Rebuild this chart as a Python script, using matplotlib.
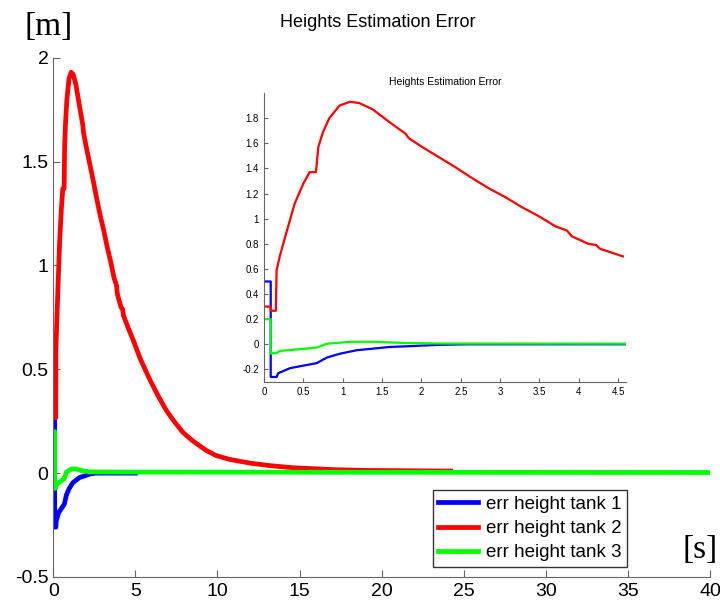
import matplotlib
matplotlib.use("Agg")
import numpy as np
import matplotlib.pyplot as plt

plt.rcParams['font.family'] = ['Liberation Sans', 'DejaVu Sans']

# --- data (time [s], error [m]) ---
# early transient (also the inset)
t_red_early = [0, 0.085, 0.085, 0.15, 0.16, 0.20, 0.244, 0.33, 0.39, 0.50, 0.58, 0.66,
               0.69, 0.75, 0.83, 0.96, 1.09, 1.21, 1.38, 1.59, 1.80, 1.84, 2.01, 2.22,
               2.43, 2.65, 2.86, 3.07, 3.28, 3.49, 3.70, 3.85, 3.91, 4.12, 4.22, 4.27, 4.56]
e_red_early = [0.30, 0.30, 0.267, 0.267, 0.59, 0.70, 0.80, 0.99, 1.12, 1.28, 1.37, 1.37,
               1.57, 1.69, 1.80, 1.90, 1.93, 1.92, 1.87, 1.77, 1.675, 1.64, 1.57, 1.49,
               1.41, 1.32, 1.24, 1.17, 1.09, 1.02, 0.94, 0.905, 0.86, 0.80, 0.79, 0.76, 0.70]
# tail of tank 2 (main plot only)
t_red_tail = [4.87, 5.3, 5.88, 6.4, 6.9, 7.4, 7.91, 8.5, 9.3, 9.9, 10.75, 12.0, 13.2,
              14.6, 17.0, 19.1, 24.2]
e_red_tail = [0.64, 0.55, 0.45, 0.37, 0.30, 0.245, 0.195, 0.155, 0.11, 0.085, 0.066,
              0.048, 0.036, 0.026, 0.017, 0.013, 0.010]

t_blue = [0, 0.085, 0.085, 0.16, 0.18, 0.33, 0.54, 0.67, 0.80, 0.97, 1.18, 1.39, 1.60,
          1.81, 2.24, 2.6, 4.6]
e_blue = [0.5, 0.5, -0.26, -0.26, -0.23, -0.19, -0.165, -0.15, -0.105, -0.074, -0.047,
          -0.034, -0.021, -0.016, -0.004, 0.0, 0.0]
t_blue_tail = [4.6, 5.0]
e_blue_tail = [0.0, 0.0]

t_green = [0, 0.085, 0.085, 0.16, 0.20, 0.54, 0.67, 0.80, 0.97, 1.10, 1.39, 1.81, 2.24, 4.6]
e_green = [0.2, 0.2, -0.074, -0.07, -0.053, -0.034, -0.026, 0.005, 0.013, 0.02, 0.02,
           0.01, 0.006, 0.005]
t_green_tail = [4.6, 40]
e_green_tail = [0.005, 0.003]

labels = ['err height tank 1', 'err height tank 2', 'err height tank 3']
colors = ['#0000ff', '#ff0000', '#00ff00']

main_xticks = list(range(0, 41, 5))
main_yticks = [-0.5, 0, 0.5, 1, 1.5, 2]
main_yticklabels = ['-0.5', '0', '0.5', '1', '1.5', '2']
ins_xticks = [0, 0.5, 1, 1.5, 2, 2.5, 3, 3.5, 4, 4.5]
ins_xticklabels = ['0', '0.5', '1', '1.5', '2', '2.5', '3', '3.5', '4', '4.5']
ins_yticks = [-0.2, 0, 0.2, 0.4, 0.6, 0.8, 1, 1.2, 1.4, 1.6, 1.8]
ins_yticklabels = ['-0.2', '0', '0.2', '0.4', '0.6', '0.8', '1', '1.2', '1.4', '1.6', '1.8']

spine_col = '0.4'


def style(ax, size, ticklen):
    for s in ['top', 'right']:
        ax.spines[s].set_visible(False)
    for s in ['left', 'bottom']:
        ax.spines[s].set_color(spine_col)
    ax.tick_params(direction='in', length=ticklen, color=spine_col,
                   labelsize=size, labelcolor='black')


fig = plt.figure(figsize=(7.2, 6.05), dpi=100)

# main axes
ax = fig.add_axes([0.0740, 0.0463, 0.9122, 0.8583])
red_t = t_red_early + t_red_tail
red_e = e_red_early + e_red_tail
lw = 3.4
ax.plot(t_blue + t_blue_tail, e_blue + e_blue_tail, color=colors[0], lw=lw, label=labels[0])
ax.plot(red_t, red_e, color=colors[1], lw=lw, label=labels[1])
ax.plot(t_green + t_green_tail, e_green + e_green_tail, color=colors[2], lw=lw, label=labels[2])
ax.set_xlim(0, 40)
ax.set_ylim(-0.5, 2)
ax.set_xticks(main_xticks)
ax.set_xticklabels([str(v) for v in main_xticks])
ax.set_yticks(main_yticks)
ax.set_yticklabels(main_yticklabels)
style(ax, 14, 5)
ax.tick_params(axis='x', pad=4)

leg = ax.legend(loc='lower right', bbox_to_anchor=(0.874, 0.019), fontsize=13.5,
                frameon=True, fancybox=False, edgecolor='black', handlelength=2.1,
                handletextpad=0.45, labelspacing=0.38, borderpad=0.3, borderaxespad=0)
leg.get_frame().set_linewidth(1.0)

fig.text(0.525, 0.963, 'Heights Estimation Error', ha='center', va='center', fontsize=13)
fig.text(0.068, 0.955, '[m]', ha='center', va='center', fontsize=24,
         family=['Liberation Serif', 'DejaVu Serif'])
fig.text(0.972, 0.091, '[s]', ha='center', va='center', fontsize=24,
         family=['Liberation Serif', 'DejaVu Serif'])

# inset: zoom on the first seconds
ins = fig.add_axes([0.3667, 0.3686, 0.5028, 0.4777])
ins.plot(t_blue, e_blue, color=colors[0], lw=1.6)
ins.plot(t_red_early, e_red_early, color=colors[1], lw=1.6)
ins.plot(t_green, e_green, color=colors[2], lw=1.6)
ins.set_xlim(0, 4.6)
ins.set_ylim(-0.3, 2.0)
ins.set_xticks(ins_xticks)
ins.set_xticklabels(ins_xticklabels)
ins.set_yticks(ins_yticks)
ins.set_yticklabels(ins_yticklabels)
style(ins, 7, 3)
ins.patch.set_alpha(0)
ins.set_title('Heights Estimation Error', fontsize=7.5, pad=6)

fig.savefig('out.png', dpi=100)
